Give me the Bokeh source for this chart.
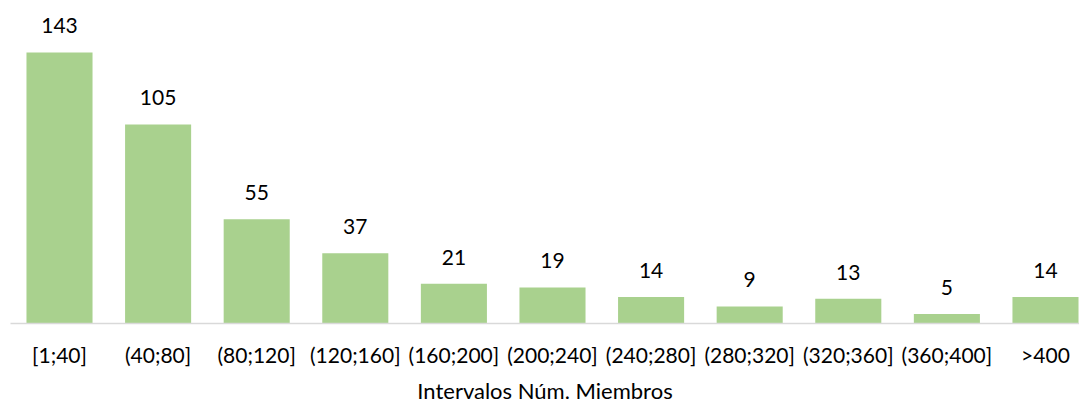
from bokeh.plotting import figure
from bokeh.models import ColumnDataSource, Range1d, FixedTicker, LabelSet
from bokeh.core.properties import value
from bokeh.embed import file_html
from bokeh.resources import INLINE

categories = ["[1;40]", "(40;80]", "(80;120]", "(120;160]", "(160;200]", "(200;240]",
              "(240;280]", "(280;320]", "(320;360]", "(360;400]", ">400"]
counts = [143, 105, 55, 37, 21, 19, 14, 9, 13, 5, 14]

x = list(range(len(categories)))
src = ColumnDataSource(dict(x=x, top=counts, label=[str(c) for c in counts]))

p = figure(frame_width=1069, frame_height=315,
           x_range=Range1d(-0.497, 10.345), y_range=Range1d(0, 166.2),
           output_backend="svg", toolbar_location=None, y_axis_location=None,
           min_border_left=10, min_border_right=0, min_border_top=8, min_border_bottom=0)
p.vbar(x="x", top="top", width=0.67, source=src, fill_color="#A9D18E", line_color=None)

labels = LabelSet(x="x", y="top", text="label", source=src, text_align="center",
                  text_baseline="alphabetic", y_offset=19, text_font=value("Lato"),
                  text_font_size="21px", text_color="#000000")
p.add_layout(labels)

ax = p.xaxis[0]
ax.ticker = FixedTicker(ticks=x)
ax.major_label_overrides = {i: c for i, c in zip(x, categories)}
ax.major_tick_line_color = None
ax.minor_tick_line_color = None
ax.axis_line_color = "#D9D9D9"
ax.axis_line_width = 1.5
ax.major_label_text_font = "Lato"
ax.major_label_text_font_size = "21px"
ax.major_label_text_color = "#000000"
ax.major_label_standoff = 12
ax.axis_label = "Intervalos Núm. Miembros"
ax.axis_label_text_font = "Lato"
ax.axis_label_text_font_style = "normal"
ax.axis_label_text_font_size = "22px"
ax.axis_label_text_color = "#000000"
ax.axis_label_standoff = 7

p.xgrid.visible = False
p.ygrid.visible = False
p.outline_line_color = None

open("out.html", "w").write(file_html(p, INLINE))
